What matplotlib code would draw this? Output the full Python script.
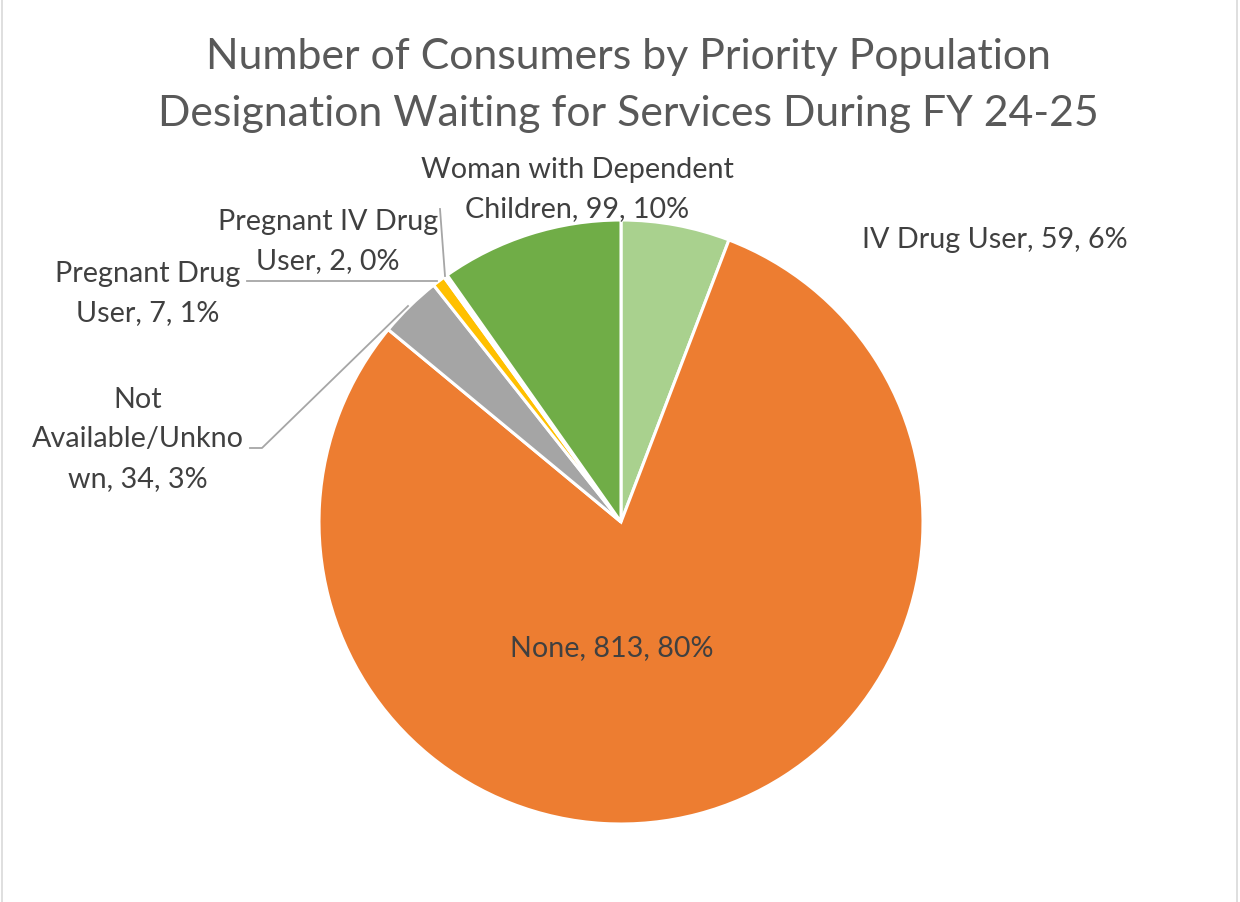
import matplotlib
matplotlib.use("Agg")
import matplotlib.pyplot as plt
from matplotlib.lines import Line2D

# ---- data ----
categories = ["IV Drug User", "None", "Not Available/Unknown",
              "Pregnant Drug User", "Pregnant IV Drug User",
              "Woman with Dependent Children"]
values = [59, 813, 34, 7, 2, 99]
colors = ["#A9D18E", "#ED7D31", "#A5A5A5", "#FFC000", "#FFFFFF", "#70AD47"]
title = "Number of Consumers by Priority Population\nDesignation Waiting for Services During FY 24-25"

# line-break positions (character index) for wrapped data labels
breaks = {
    "Not Available/Unknown": [3, 19],
    "Pregnant Drug User": [13],
    "Pregnant IV Drug User": [16],
    "Woman with Dependent Children": [20],
}
# label centres in pixels (x, y of first line)
label_pos = {
    "IV Drug User": (995, 240),
    "None": (612, 648),
    "Not Available/Unknown": (138, 400),
    "Pregnant Drug User": (148, 274),
    "Pregnant IV Drug User": (328, 222),
    "Woman with Dependent Children": (577, 170),
}

W, H = 1240, 903
fig = plt.figure(figsize=(W / 100, H / 100), dpi=100)
fig.patch.set_facecolor("white")

def fx(x):
    return x / W

def fy(y):
    return 1 - y / H

# chart-area border
for x in (2, W - 3):
    fig.add_artist(Line2D([fx(x), fx(x)], [0, 1], color="#D9D9D9", lw=1.2))

cx, cy, r = 621, 523, 302
ax = fig.add_axes([fx(cx - r), fy(cy + r), 2 * r / W, 2 * r / H])
ax.pie(values, colors=colors, startangle=90, counterclock=False, radius=1,
       wedgeprops=dict(edgecolor="white", linewidth=2.2))
ax.set_xlim(-1, 1)
ax.set_ylim(-1, 1)
ax.set_aspect("auto")
ax.axis("off")

FONT = "Lato"
for i, tl in enumerate(title.split("\n")):
    fig.text(fx(628), fy(57 + i * 57), tl, ha="center", va="center",
             fontsize=30.8, color="#595959", family=FONT)

total = sum(values)
LS = 39.5
for cat, v in zip(categories, values):
    txt = f"{cat}, {v}, {round(100 * v / total)}%"
    lines = []
    prev = 0
    for b in breaks.get(cat, []):
        lines.append(txt[prev:b].strip())
        prev = b
    lines.append(txt[prev:].strip())
    x0, y0 = label_pos[cat]
    for i, ln in enumerate(lines):
        fig.text(fx(x0), fy(y0 + i * LS), ln, ha="center", va="center",
                 fontsize=20.7, color="#404040", family=FONT)

# leader lines
lc = "#A6A6A6"
leaders = [
    [(250, 449), (262, 449), (408, 307)],
    [(247, 282), (437, 282)],
    [(440, 210), (445, 277)],
]
for pts in leaders:
    xs = [fx(p[0]) for p in pts]
    ys = [fy(p[1]) for p in pts]
    fig.add_artist(Line2D(xs, ys, color=lc, lw=1.3))

fig.savefig("out.png", dpi=100, facecolor="white")
